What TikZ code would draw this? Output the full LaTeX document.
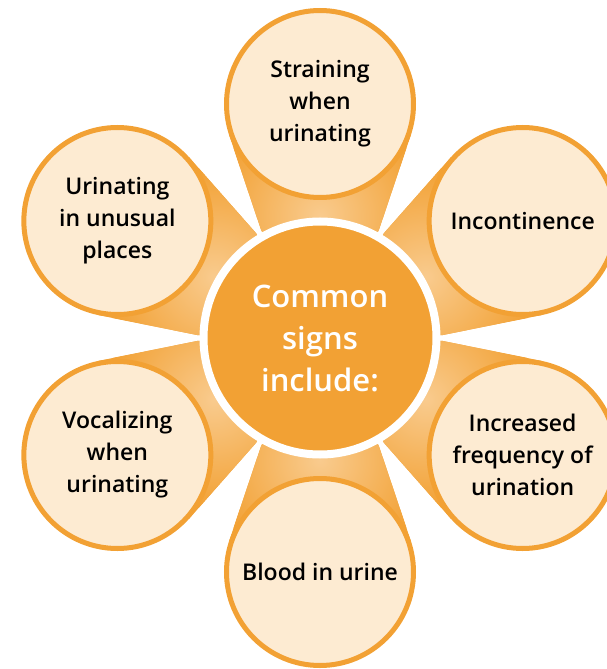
\documentclass[tikz,border=0pt]{standalone}
\usepackage{fontspec}
\setmainfont{Open Sans}[UprightFont={* Semibold}]
\usetikzlibrary{calc,backgrounds}
\definecolor{signorange}{HTML}{F2A134}
\definecolor{signcream}{HTML}{FDEBD2}
\definecolor{signglow}{HTML}{F9CB8E}

\begin{document}
\begin{tikzpicture}[x=0.5pt,y=0.5pt,
    hub/.style={circle,draw=white,line width=4pt,fill=signorange,text=white,inner sep=0pt,minimum size=116.5pt,align=center,font=\fontsize{15.5}{21}\selectfont},
    sign/.style={circle,draw=signorange,line width=2.5pt,fill=signcream,inner sep=0pt,minimum size=93.5pt,align=center,font=\fontsize{11.5}{16}\selectfont}]
        \useasboundingbox (-320,-331) rectangle (286,338);
        % Hub
        \node[hub] (C) at (0,0) {Common\\signs\\include:};
        % Signs
        \node[sign] (S1) at (90:234) {Straining\\when\\urinating};
        \node[sign] (S2) at (30:234) {Incontinence};
        \node[sign] (S3) at (-30:234) {Increased\\frequency of\\urination};
        \node[sign] (S4) at (-90:234) {Blood in urine};
        \node[sign] (S5) at (210:234) {Vocalizing\\when\\urinating};
        \node[sign] (S6) at (150:234) {Urinating\\in unusual\\places};
        % Wedges
        \begin{scope}[on background layer]
        \foreach \s in {S1,S2,S3,S4,S5,S6}{
          \begin{scope}
            \clip (C.center) -- ($(C.center)!61.5pt!28.6:(\s.center)$) -- ($(\s.center)!48pt!-71.5:(C.center)$) -- (\s.center) -- ($(\s.center)!48pt!71.5:(C.center)$) -- ($(C.center)!61.5pt!-28.6:(\s.center)$) -- cycle;
            \fill[signorange] (\s.center) circle (160pt);
            \shade[inner color=signglow,outer color=signorange] ($(C.center)!61pt!(\s.center)$) circle (55pt);
          \end{scope}
        }
        \end{scope}
      \end{tikzpicture}
\end{document}
